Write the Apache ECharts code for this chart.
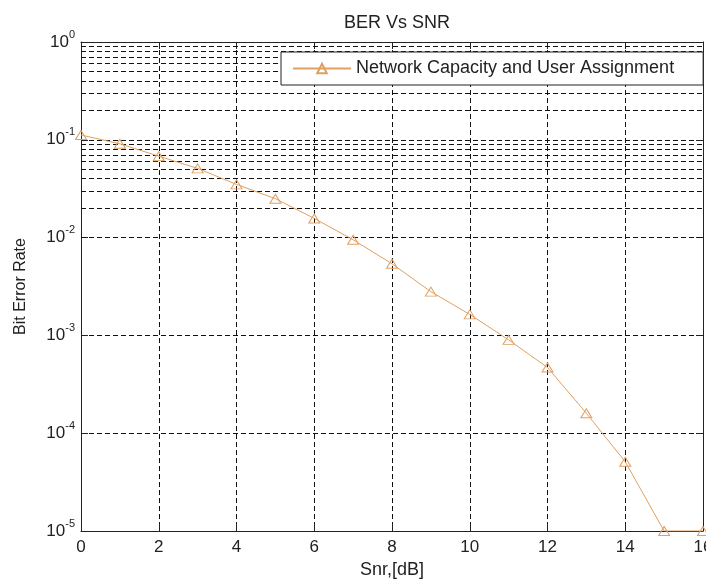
<!DOCTYPE html>
<html>
<head>
<meta charset="utf-8">
<script src="https://cdn.jsdelivr.net/npm/echarts@6/dist/echarts.min.js"></script>
<style>html,body{margin:0;padding:0;background:#fff;}#c{width:706px;height:581px;}</style>
</head>
<body>
<div id="c"></div>
<script>
var snr = [0, 1, 2, 3, 4, 5, 6, 7, 8, 9, 10, 11, 12, 13, 14, 15, 16];
var ber = [0.112, 0.091, 0.068, 0.051, 0.035, 0.025, 0.0157, 0.0095, 0.0054, 0.0028, 0.00164, 0.0009, 0.00047, 0.00016, 0.000051, 0.00001, 0.00001];
var seriesName = 'Network Capacity and User Assignment';
var xTicks = [0, 2, 4, 6, 8, 10, 12, 14, 16];
var yDecadeExponents = [-5, -4, -3, -2, -1, 0];
var minorMultipliers = [2, 3, 4, 5, 6, 7, 8, 9];

var minorValues = [];
yDecadeExponents.slice(0, -1).forEach(function (e) {
  minorMultipliers.forEach(function (m) { minorValues.push(m * Math.pow(10, e)); });
});

var font = 'Liberation Sans, Arial, sans-serif';
var lineColor = '#DFA062';
var dash = [5, 3];

var chart = echarts.init(document.getElementById('c'), null, {renderer: 'canvas'});
chart.setOption({
  backgroundColor: '#fff',
  animation: false,
  title: {
    text: 'BER Vs SNR',
    left: 392, top: 9,
    textAlign: 'center',
    textStyle: {fontFamily: font, fontSize: 18, fontWeight: 'normal', color: '#222'}
  },
  legend: {
    data: [seriesName],
    left: 281, top: 52,
    z: 20,
    padding: [7, 29, 7, 11],
    itemWidth: 58, itemHeight: 12, itemGap: 5,
    backgroundColor: '#fff',
    borderColor: '#222', borderWidth: 1,
    textStyle: {fontFamily: font, fontSize: 18, color: '#222', lineHeight: 19}
  },
  grid: {left: 81, top: 42, width: 622, height: 489, containLabel: false, outerBoundsMode: 'none'},
  xAxis: [{
    type: 'value', min: 0, max: 16, interval: 2,
    name: 'Snr,[dB]', nameLocation: 'middle', nameGap: 26,
    nameTextStyle: {fontFamily: font, fontSize: 18, color: '#222'},
    axisLine: {show: true, onZero: false, lineStyle: {color: '#222', width: 1}},
    axisTick: {show: true, inside: true, length: 7, lineStyle: {color: '#222'}},
    axisLabel: {fontFamily: font, fontSize: 17, color: '#222', margin: 8,
      customValues: xTicks},
    splitLine: {show: true, lineStyle: {color: '#111', type: dash, width: 1}}
  }, {
    type: 'value', min: 0, max: 16, interval: 2, position: 'top',
    axisLine: {show: true, onZero: false, lineStyle: {color: '#222', width: 1}},
    axisTick: {show: true, inside: true, length: 7, lineStyle: {color: '#222'}},
    axisLabel: {show: false}, splitLine: {show: false}
  }],
  yAxis: [{
    type: 'log', logBase: 10, min: 1e-5, max: 1, interval: 1,
    name: 'Bit Error Rate', nameLocation: 'middle', nameGap: 52, nameRotate: 90,
    nameTextStyle: {fontFamily: font, fontSize: 16, color: '#222'},
    axisLine: {show: true, onZero: false, lineStyle: {color: '#222', width: 1}},
    axisTick: {show: true, inside: true, length: 7, lineStyle: {color: '#222'}},
    axisLabel: {
      margin: 6,
      formatter: function (v) {
        var e = Math.round(Math.log(v) / Math.LN10);
        return '{b|10}{s|' + e + '}';
      },
      rich: {
        b: {fontFamily: font, fontSize: 17, color: '#222', lineHeight: 26},
        s: {fontFamily: font, fontSize: 11, color: '#222', lineHeight: 12, verticalAlign: 'top'}
      }
    },
    splitLine: {show: true, lineStyle: {color: '#111', type: dash, width: 1}}
  }, {
    type: 'log', logBase: 10, min: 1e-5, max: 1, interval: 1, position: 'right',
    axisLine: {show: true, onZero: false, lineStyle: {color: '#222', width: 1}},
    axisTick: {show: true, inside: true, length: 7, lineStyle: {color: '#222'}},
    axisLabel: {show: false}, splitLine: {show: false}
  }],
  series: [{
    name: 'minorGrid',
    type: 'line',
    data: [],
    silent: true,
    z: 1,
    markLine: {
      silent: true,
      symbol: 'none',
      z: 1,
      label: {show: false},
      lineStyle: {color: '#111', type: dash, width: 1},
      data: minorValues.map(function (v) { return {yAxis: v}; })
    }
  }, {
    name: seriesName,
    type: 'line',
    data: snr.map(function (x, i) { return [x, ber[i]]; }),
    symbol: 'triangle',
    symbolSize: [11, 9],
    showAllSymbol: true,
    lineStyle: {color: lineColor, width: 1},
    itemStyle: {color: 'rgba(255,255,255,0)', borderColor: lineColor, borderWidth: 1},
    z: 3
  }]
});
</script>
</body>
</html>
